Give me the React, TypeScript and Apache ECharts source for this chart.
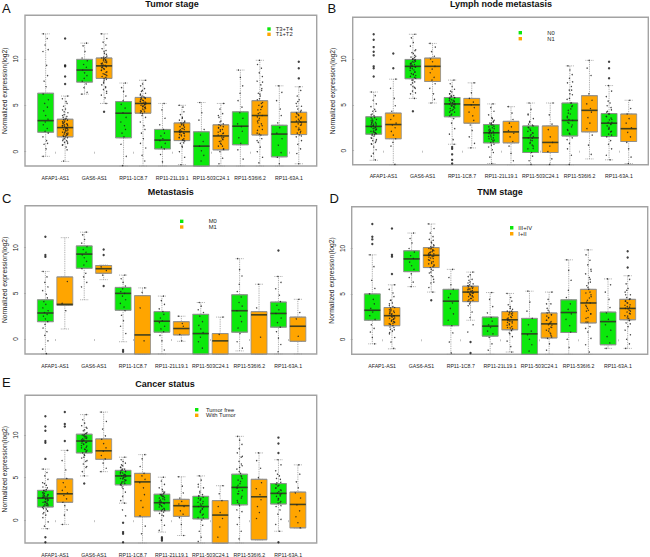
import React, { useEffect, useRef } from "react";
import * as echarts from "echarts";

const genes = ["AFAP1-AS1", "GAS6-AS1", "RP11-1C8.7", "RP11-21L19.1", "RP11-503C24.1", "RP11-536I6.2", "RP11-63A.1"];
const yTicks = [0, 5, 10];
const jitter = [-0.12, 0.08, -0.03, 0.13, -0.14, 0.05, 0.1, -0.08, 0.02, -0.13, 0.14, -0.05, 0.09, -0.1, 0, 0.12, -0.02];
const GREEN = "#0ce80c";
const ORANGE = "#ffa500";

// [min, q1, median, q3, max]
const boxesA = [[-0.5,2.1,3.35,6.3,12.7],[-1.05,1.6,2.6,3.5,6],[6.2,7.5,8.8,9.95,11.7],[5.2,7.9,9.25,10.1,12.7],[-1.54,1.5,4.15,5.4,7.4],[-1.54,4.15,5.2,5.85,7.7],[-1.54,0.3,1.25,2.4,5.2],[-1.4,1.2,2.15,3.1,5],[-1.54,-1.54,0.6,2.15,5.3],[-1.54,0.2,1.7,2.9,5.2],[-1.54,0.75,2.75,4.3,8.8],[-1.54,1.8,3.9,5.5,9.85],[-1.54,-0.55,1.9,2.85,7.1],[-1.3,1.85,3.2,4.25,7]];
const boxesB = [[-1.05,1.8,2.65,3.7,6.4],[-1.53,1.3,2.85,4.1,7.8],[5.7,7.85,9.2,9.95,12.7],[5.2,7.55,9.2,10.1,11.7],[0.7,3.7,5.1,5.8,7.7],[0.3,3,5,5.7,7.4],[-1.4,0.85,1.95,2.85,5.1],[-1.53,0.85,2.05,3.2,4.8],[-1.53,-0.2,1.4,2.7,5.2],[-1.53,-0.2,0.9,2.7,5.2],[-1.53,1.6,3.3,5.2,9.25],[-0.9,2.05,4.4,6,9.85],[-1,1.55,3,4.05,7.1],[-1.4,1,2.4,4,5.5]];
const boxesC = [[-1.64,1.9,2.85,4.3,7.4],[1.1,3.7,3.8,6.8,11.1],[4.3,7.75,9.3,10.2,11.7],[6.5,7.2,7.7,8.05,8.1],[-0.3,3.15,5,5.65,7],[-1.64,-1.64,0.45,4.75,5.6],[-1.64,0.75,1.95,3,4.7],[-0.25,0.45,1.15,1.9,2.5],[-1.64,-1.64,0.6,2.7,4],[-1.64,-1.64,-0.2,0.6,2.4],[-1.3,0.75,3.1,4.85,8.8],[-1.64,-1.64,2.65,3,6],[-1.64,1.3,2.8,4.05,6.85],[-1.64,-0.25,1.4,2.4,4.35]];
const boxesD = [[-0.5,2.1,3.2,5,9.3],[-1.05,1.5,2.6,3.5,6],[5.8,7.45,8.85,9.75,11.7],[5.2,7.9,9.25,10.1,12.7],[-1.65,1.5,4.2,5.5,7.7],[2.1,4.15,5.2,5.85,7.4],[-1.65,0.35,1.45,2.45,5.15],[-1.4,1.05,2.15,3.05,5.05],[-1.65,-1.65,0.6,2.3,5.3],[-1.65,0.15,1.7,2.9,5.2],[-1.65,0.75,2.95,4.35,8.75],[-1.65,1.8,4,5.5,9.85],[-1,-0.6,1.95,3,6.65],[-1,2.15,3.4,4.4,7]];
const boxesE = [[-1,1.55,2.6,3.5,6],[-0.5,2.1,3.1,4.85,8.2],[5.2,7.9,9.3,10.1,12.4],[5.7,7.15,8.15,9.55,12.7],[2,4.15,5.2,5.85,7.4],[-2.68,0.4,4.5,5.5,7.7],[-1.4,1.1,2.05,3.05,5.05],[-1.8,0.45,1.7,2.45,5.1],[-2.68,0.15,1.6,2.8,5.2],[-2.68,-2.68,0.6,2.3,4.05],[-2.68,1.8,3.85,5.4,9.85],[-2.3,-2.3,2.75,4.8,7.9],[-1.3,1.9,3.15,4.3,7.1],[-0.9,-0.9,1.85,3.3,6.5]];

// large outlier marks, one list per box
const outA = [[],[12.2,9.3,9.2,8.1,7.3],[],[4.3],[],[],[],[],[],[],[],[],[],[9.7,9,7.9]];
const outB = [[12.7,12.1,11.3,10.8,10.4,9.2,9,8.1],[10.6,9],[4.3],[],[0.4,0.2,-0.4,-1,-1.4],[],[],[],[],[],[],[],[9.7,9,7.9],[]];
const outC = [[11.2,9.2,9],[],[],[9.8,9.2,5.8],[-1.2,-1.4],[],[],[],[],[],[],[],[9.7],[]];
const outD = [[12.7,11.3,11,10.5],[12.2,9.3,9.1,7.2],[],[4.3],[],[-0.3,-1.5],[],[],[],[],[],[],[],[9.7,9,7.9]];
const outE = [[12.2,11,10.5,9.3,9.1,7.2,-2,-2.6],[12.7,11.3,11,9.3],[4.3],[],[-0.3,-1.4,-1.6,-2.6],[],[-2,-2.2,-2.4],[],[],[],[],[],[9.7,9,7.9,-2.6],[]];

// jittered sample points, one list per box
const ptsA = [
[12.7,12.2,11.5,11,10.8,9.3,8.2,7.6,7,6.2,5.6,5.2,4.8,4.4,3.9,3.5,3.2,2.9,2.5,2.2,2,1.6,1.2,0.9,0.8,0.3,-0.5],
[6,5.7,5.4,5.2,4.9,4.6,4.5,4.2,4,3.8,3.7,3.5,3.4,3.3,3.1,3,2.9,2.8,2.8,2.6,2.5,2.4,2.3,2.1,2,1.9,1.8,1.7,1.6,1.5,1.4,1.2,1.2,1,0.9,0.7,0.5,0.2,-1],
[11.7,11.4,10.8,10.1,9.8,9.4,9.1,8.8,8.5,8.2,7.9,7.6,7.3,6.9,6.4,6.2],
[12.7,12.2,11.8,11.5,11.1,10.8,10.5,10.2,10.1,9.9,9.8,9.6,9.5,9.3,9.2,9.1,8.9,8.8,8.6,8.4,8.3,8.1,7.9,7.8,7.5,7.2,7,6.7,6.5,6.1,5.8,5.2],
[7.4,6.9,6.5,6,5.5,5.1,4.7,4.2,3.7,3.2,2.8,2.4,2,1.6,0.8,-0.5,-1.5],
[7.7,7.3,7.1,6.8,6.6,6.3,6.1,5.9,5.8,5.7,5.5,5.4,5.3,5.2,5.1,5,4.9,4.8,4.6,4.4,4.3,4.1,3.7,3.2,2.8,2.4,2,1.4,0.9,0.4,-0.4,-1],
[5.2,4.5,3.6,2.9,2.4,2,1.7,1.4,1.2,0.9,0.5,0.3,-0.3,-1.1],
[5,4.8,4.3,4,3.7,3.4,3.2,3.1,2.9,2.7,2.5,2.4,2.2,2.1,2,1.8,1.7,1.5,1.3,1.2,0.9,0.5,0,-0.6,-1.4],
[5.3,4.2,3.4,2.4,1.8,1.1,0.6,0.1,-0.4,-1],
[5.2,4.6,4.1,3.7,3.3,3,2.8,2.6,2.4,2.2,2,1.8,1.5,1.3,1.1,0.8,0.6,0.3,0,-0.7,-1.3],
[8.8,8,7.1,6.3,5.5,4.8,4.2,3.6,3,2.7,2.2,1.5,0.9,0.2,-0.8],
[9.85,9.4,9,8.5,8.1,7.6,7.2,6.8,6.3,6,5.6,5.3,5,4.8,4.5,4.2,3.9,3.6,3.3,3,2.7,2.4,2,1.8,1.4,1,0.5,0,-0.6,-1.2],
[7.1,6.4,5.5,4.6,3.9,3.1,2.6,2,1.4,0.7,-0.1,-0.6,-1.3],
[7,6.6,6,5.6,5.2,4.9,4.6,4.3,4.1,3.9,3.7,3.5,3.3,3.2,3,2.9,2.7,2.4,2.2,2,1.8,1.6,1.2,0.8,0.3,-0.2,-1.3],
];
const ptsB = [
[6.4,6,5.5,5.1,4.8,4.5,4.3,4,3.8,3.6,3.4,3.3,3.1,3,2.9,2.8,2.7,2.6,2.5,2.4,2.3,2.1,2,1.9,1.8,1.6,1.4,1.2,1.1,0.9,0.7,0.4,0.1,-0.3,-0.6,-1],
[7.8,6.8,5.7,4.9,4.3,3.8,3.4,3,2.8,2.5,2.1,1.7,1.3,0.9,0.5,-1.5],
[12.7,12.3,11.8,11.4,11,10.7,10.4,10.2,10,9.9,9.7,9.5,9.4,9.2,9.1,9,8.8,8.6,8.4,8.3,8.1,7.9,7.7,7.5,7.2,7,6.8,6.5,6.2,5.7],
[11.7,11.3,10.8,10.3,10,9.7,9.2,8.9,8.5,8,7.7,7.3,6.8,6.2,5.6,5.2],
[7.7,7.3,7,6.7,6.4,6.2,6,5.9,5.8,5.7,5.5,5.4,5.3,5.2,5.1,5,4.9,4.8,4.6,4.4,4.2,4,3.8,3.5,3,2.4,1.8,1.2,0.7],
[7.4,6.3,5.7,5.3,5,4.7,4.2,3.8,3.3,2.8,2.2,1.5,0.8,0.3],
[5.1,4.7,4.3,3.9,3.5,3.2,3,2.8,2.6,2.4,2.2,2.1,2,1.9,1.7,1.5,1.3,1.1,0.9,0.7,0.4,0.1,-0.2,-0.7,-1.4],
[4.8,4.1,3.4,3,2.6,2.2,1.9,1.5,1,0.5,-0.3,-1.1],
[5.2,4.5,4,3.5,3.1,2.8,2.5,2.2,1.9,1.6,1.4,1.1,0.8,0.5,0.2,-0.2,-0.6,-1.1,-1.5],
[5.2,3.9,2.9,2.3,1.5,0.9,0.5,-0.1,-0.9,-1.5],
[9.25,8.8,8.3,7.9,7.4,7,6.6,6.1,5.6,5.2,4.8,4.4,4,3.6,3.3,3,2.6,2.2,1.8,1.4,0.8,0.2,-0.5,-1.5],
[9.85,9,8.2,6.2,5.5,5.1,4.6,4.2,3.6,3,2.4,1.7,0.6,-0.4],
[7.1,6.5,5.9,5.2,4.7,4.3,4,3.7,3.4,3.1,2.9,2.7,2.4,2.1,1.8,1.5,1.1,0.7,0.2,-0.5,-1],
[5.5,4.6,4,3.5,3,2.5,2,1.5,0.9,0.2,-0.7,-1.4],
];
const ptsC = [
[7.4,6.8,6.2,5.7,5.3,4.9,4.5,4.1,3.8,3.4,3.1,2.9,2.7,2.5,2.2,1.9,1.6,1.2,0.8,0.4,-0.2,-1.1,-1.6],
[6.3,3.9,3.1],
[11.7,11.4,10.9,10.5,10.1,9.8,9.5,9.2,8.9,8.5,8.1,7.7,7.2,6.8,6.2,5.7],
[7.9,7.5,7],
[7,6.6,6.2,5.8,5.5,5.2,5,4.7,4.3,3.9,3.5,3.1,2.6,2,1.4,0.6],
[5.6,5.1,3.4,-0.2],
[4.7,4.2,3.8,3.3,3,2.7,2.3,2,1.8,1.4,1.1,0.8,0.4,-0.2,-1.2],
[2.5,1.7,1.4,0.5,-0.2],
[4,3.6,3.2,2.9,2.5,1.9,1.5,1.1,0.7,0.2,-0.3,-1],
[2.4,0.5],
[8.8,7.6,6.9,6,5.2,4.6,4,3.6,3.1,2.5,1.9,1.2,0.6,-0.3,-1],
[6,3.4,0.2],
[6.85,6.2,5.5,4.8,4.1,3.7,3.2,2.8,2.3,1.8,1.3,0.8,0.1,-0.6,-1.4],
[4.35,2.9,2.2,0.3],
];
const ptsD = [
[9.3,8,6.5,5.6,5,4.4,3.9,3.4,3,2.6,2.2,1.6,1.2,0.8,0.2,-0.5],
[6,5.5,5.1,4.7,4.3,4,3.7,3.5,3.3,3.1,2.9,2.8,2.6,2.5,2.3,2.2,2,1.9,1.7,1.5,1.3,1.1,0.9,0.6,0.2,-0.3,-1],
[11.7,11.1,10.6,10,9.6,9.2,8.9,8.5,8.1,7.7,7.2,6.8,6.3,5.8],
[12.7,12.2,11.7,11.3,11,10.7,10.4,10.2,10,9.8,9.6,9.4,9.3,9.1,8.9,8.7,8.5,8.3,8.1,7.9,7.6,7.3,7,6.6,6.2,5.7,5.2],
[7.7,6.8,6,5.5,5,4.6,4,3.4,2.8,2.1,1.5,0.7,-0.3,-1.5],
[7.4,7.1,6.9,6.6,6.3,6.1,5.9,5.8,5.6,5.5,5.3,5.2,5.1,5,4.8,4.7,4.5,4.3,4.1,3.7,3,2.4,1.6,0.8],
[5.15,4.4,3.6,2.9,2.4,2,1.6,1.3,0.9,0.6,0.2,-0.5,-1.2],
[5.05,4.6,4.2,3.8,3.4,3.1,2.9,2.7,2.4,2.2,2,1.8,1.6,1.3,1,0.7,0.3,-0.2,-0.8,-1.4],
[5.3,4.1,3.1,2.3,1.6,0.9,0.5,0,-0.6,-1.3],
[5.2,4.4,3.9,3.4,3,2.7,2.4,2.1,1.8,1.6,1.3,1,0.7,0.4,0.1,-0.5,-1.2],
[8.75,7.6,6.5,5.4,4.6,3.9,3.3,2.8,2.2,1.5,0.8,0,-0.9],
[9.85,9.3,8.7,8.2,7.7,7.2,6.8,6.3,5.9,5.5,5.1,4.7,4.3,4,3.6,3.2,2.8,2.4,1.9,1.4,0.8,0.1,-0.6,-1.4],
[6.65,6,5.2,4.4,3.5,2.9,2.2,1.6,1,0.3,-0.4,-1],
[7,6.6,6.1,5.6,5.2,4.9,4.6,4.4,4.2,4,3.8,3.6,3.4,3.2,3,2.8,2.6,2.3,2.1,1.8,1.4,1,0.5,0,-0.5,-1],
];
const ptsE = [
[6,5.6,5.2,4.8,4.4,4.1,3.8,3.5,3.4,3.2,3,2.9,2.8,2.7,2.5,2.4,2.2,2.1,2,1.8,1.7,1.5,1.3,1.1,0.9,0.6,0.3,-0.2,-0.7,-1],
[8.2,7,5.9,4.9,4.4,3.9,3.5,3.2,2.9,2.5,2.1,1.7,1.2,0.6,-0.5],
[12.4,11.8,11.4,11.1,10.8,10.5,10.2,10,9.8,9.6,9.4,9.3,9.1,8.9,8.7,8.5,8.3,8.1,7.9,7.6,7.3,7,6.6,6.2,5.7,5.2],
[12.7,11.6,10.7,9.9,9.5,9,8.5,8.1,7.6,7.2,6.7,6.1,5.7],
[7.4,7.1,6.9,6.7,6.4,6.2,6,5.9,5.7,5.6,5.4,5.3,5.2,5,4.9,4.7,4.5,4.3,4.1,3.7,3.3,2.8,2.3,2,1.2,0.5],
[7.7,7.2,6.3,5.5,5.2,4.8,4.4,3.8,3,2.3,1.5,0.5,-0.7,-1.6],
[5.05,4.6,4.2,3.8,3.4,3.2,3,2.8,2.6,2.4,2.1,2,1.8,1.6,1.3,1.1,0.8,0.5,0,-0.6,-1.2],
[5.1,4,3.2,2.6,2.2,1.9,1.6,1.1,0.7,0.3,-0.5,-1.8],
[5.2,4.7,4.2,3.8,3.4,3,2.8,2.5,2.2,1.9,1.6,1.3,1,0.7,0.3,0,-0.6,-1.3,-2,-2.5],
[4.05,3.1,2.3,1.6,0.9,0.2,-0.8,-2],
[9.85,9.4,8.9,8.4,7.9,7.4,6.9,6.4,6,5.5,5.1,4.7,4.3,3.9,3.5,3.1,2.6,2.1,1.7,1,0.3,-0.5,-1.3,-2.2],
[7.9,7,6.1,5,4.4,3.7,3,2.4,1.6,0.9,0.2],
[7.1,6.5,5.8,5.2,4.8,4.4,4.1,3.8,3.5,3.2,3,2.8,2.5,2.2,2,1.6,1.2,0.7,0.1,-0.5,-1.3],
[6.5,5.4,4.5,3.8,3.2,2.6,1.8,1.1,0.4,-0.3,-0.9],
];

// further points of the large group in a panel, one list per gene
const denseByGene = [
[3.6,3.45,3.25,3.15,3.05,2.95,2.85,2.75,2.65,2.55,2.45,2.35,2.25,2.15,2.05,1.95,1.85,1.75,1.65,3.9,4.3,1.35,1.05,0.75],
[10.9,10.6,10.3,10.15,10.05,9.95,9.85,9.75,9.65,9.55,9.45,9.35,9.25,9.15,9.05,8.95,8.75,8.55,8.35,8.2,8,7.7,7.4,6.9,6.3],
[6.5,6.2,6,5.85,5.75,5.65,5.55,5.45,5.35,5.25,5.15,5.05,4.95,4.85,4.75,4.65,4.5,4.35,4.2,3.9],
[3.6,3.3,3.1,3,2.9,2.8,2.65,2.5,2.35,2.25,2.15,2.05,1.95,1.85,1.7,1.55,1.4,1.25,1.15,0.95,0.6],
[3.9,3.2,2.9,2.7,2.55,2.35,2.1,1.95,1.75,1.55,1.35,1.15,0.9,0.6,0.25],
[7.5,6.6,6.2,5.7,5.2,4.9,4.55,4.1,3.75,3.4,3.1,2.8,2.3,1.9,1.2],
[5.4,4.9,4.45,4.2,4,3.75,3.55,3.35,3.1,2.85,2.55,2.35,2.05,1.7],
];
const densePair = [1, 0, -1, 1, 0]; // which of a gene's two boxes holds the extra points, per panel

const panels = [
  { title: "Tumor stage", letter: "A", boxes: boxesA, pts: ptsA, out: outA, frame: [22.7, 316.7, 15.3, 166], y: [-1.54, 14.7], x: [-0.06, 14.92], titleX: 172, titleY: 3.7, letterX: 2, letterY: 8.5,
    legend: { names: ["T3+T4", "T1+T2"], mx: 269, tx: 275.7, ys: [29, 34.3] } },
  { title: "Lymph node metastasis", letter: "B", boxes: boxesB, pts: ptsB, out: outB, frame: [352.7, 648.3, 17.3, 164.7], y: [-1.53, 14.55], x: [-0.07, 15], titleX: 501, titleY: 3.7, letterX: 327.5, letterY: 8.5,
    legend: { names: ["N0", "N1"], mx: 520.3, tx: 547.3, ys: [32.7, 38.7] } },
  { title: "Metastasis", letter: "C", boxes: boxesC, pts: ptsC, out: outC, frame: [22.7, 316.7, 205.7, 354], y: [-1.64, 14.6], x: [-0.05, 14.97], titleX: 170.7, titleY: 192.3, letterX: 2, letterY: 198,
    legend: { names: ["M0", "M1"], mx: 181.7, tx: 208.7, ys: [221.3, 227] } },
  { title: "TNM stage", letter: "D", boxes: boxesD, pts: ptsD, out: outD, frame: [351.7, 647.7, 206.7, 354.3], y: [-1.65, 14.6], x: [-0.05, 15.02], titleX: 500, titleY: 192.3, letterX: 329.5, letterY: 198,
    legend: { names: ["III+IV", "I+II"], mx: 511.7, tx: 518.3, ys: [227.7, 233.7] } },
  { title: "Cancer status", letter: "E", boxes: boxesE, pts: ptsE, out: outE, frame: [22.7, 316.7, 395.3, 544], y: [-2.68, 14.67], x: [-0.05, 14.97], titleX: 165, titleY: 384.3, letterX: 2, letterY: 382,
    legend: { names: ["Tumor free", "With Tumor"], mx: 196.7, tx: 206, ys: [409.7, 415.3] } },
];

const FONT = "Liberation Sans";

function buildOption() {
  const grid: any[] = [], xAxis: any[] = [], yAxis: any[] = [], series: any[] = [], graphic: any[] = [], title: any[] = [];
  panels.forEach((p, i) => {
    const [l, r, t, b] = p.frame;
    grid.push({ left: l, top: t, width: r - l, height: b - t, show: true, backgroundColor: "#fff", borderColor: "#a3a3a3", borderWidth: 1.4 });
    const labelX = genes.map((_, k) => 1.5 + 2 * k);
    xAxis.push({
      type: "value", gridIndex: i, min: p.x[0], max: p.x[1], splitLine: { show: false }, axisLine: { show: false },
      axisTick: { show: true, length: 2, customValues: labelX, lineStyle: { color: "#999", width: 0.6 } },
      axisLabel: { show: true, customValues: labelX, hideOverlap: false, fontSize: 5.2, fontFamily: FONT, color: "#222", margin: 9,
        formatter: (v: number) => genes[Math.round((v - 1.5) / 2)] },
    });
    xAxis.push({ type: "value", gridIndex: i, min: p.x[0], max: p.x[1], show: false, splitLine: { show: false } });
    yAxis.push({
      type: "value", gridIndex: i, min: p.y[0], max: p.y[1], splitLine: { show: false }, axisLine: { show: false },
      name: "Normalized expression(log2)", nameLocation: "middle", nameRotate: 90, nameGap: 17,
      nameTextStyle: { fontSize: 6.8, fontFamily: FONT, color: "#222" },
      axisTick: { show: true, length: 2, customValues: yTicks, lineStyle: { color: "#999", width: 0.6 } },
      axisLabel: { show: true, customValues: yTicks, rotate: 90, fontSize: 6.5, fontFamily: FONT, color: "#222", margin: 6 },
    });
    const ax = 2 * i;
    const slots = p.boxes.map((_, k) => k + 1);
    // whiskers and caps
    series.push({
      type: "boxplot", xAxisIndex: ax, yAxisIndex: i, boxWidth: [8, 8], silent: true,
      itemStyle: { color: "transparent", borderColor: "#9c9c9c", borderWidth: 0.9, borderType: "dotted" },
      data: p.boxes.map((q, k) => [slots[k], ...q]),
    });
    // boxes
    series.push({
      type: "boxplot", xAxisIndex: ax + 1, yAxisIndex: i, boxWidth: [16, 16], silent: true,
      data: p.boxes.map((q, k) => ({
        value: [slots[k], q[1], q[1], q[2], q[3], q[3]],
        itemStyle: { color: k % 2 === 0 ? GREEN : ORANGE, borderColor: "#8d8d8d", borderWidth: 0.8 },
      })),
    });
    // medians
    series.push({
      type: "scatter", xAxisIndex: ax, yAxisIndex: i, symbol: "rect", symbolSize: [16, 1.6], silent: true,
      itemStyle: { color: "rgba(15,25,0,0.85)" },
      data: p.boxes.map((q, k) => [slots[k], q[2]]),
    });
    // points
    const pts: number[][] = [];
    p.pts.forEach((list, k) => list.forEach((v, n) => pts.push([slots[k] + jitter[(n + k * 3) % jitter.length], v])));
    if (densePair[i] >= 0) {
      denseByGene.forEach((list, g) => {
        const k = 2 * g + densePair[i];
        list.forEach((v, n) => {
          if (v <= p.boxes[k][4] && v >= p.boxes[k][0]) pts.push([slots[k] + jitter[(n * 2 + g + 5) % jitter.length], v]);
        });
      });
    }
    series.push({ type: "scatter", xAxisIndex: ax, yAxisIndex: i, symbolSize: 1.4, silent: true, itemStyle: { color: "#222", opacity: 0.85 }, data: pts });
    // outliers
    const outs: number[][] = [];
    p.out.forEach((list, k) => list.forEach((v) => outs.push([slots[k], v])));
    series.push({ type: "scatter", xAxisIndex: ax, yAxisIndex: i, symbolSize: 2.4, silent: true, itemStyle: { color: "#111" }, data: outs });

    title.push({ text: p.title, left: p.titleX, top: p.titleY - 5, padding: 0, textAlign: "center", textStyle: { fontSize: 9, fontWeight: "bold", fontFamily: FONT, color: "#111", lineHeight: 10 } });
    graphic.push({ type: "text", x: p.letterX, y: p.letterY, style: { text: p.letter, fontSize: 13, fontFamily: FONT, fill: "#111", verticalAlign: "middle" } });
    p.legend.names.forEach((name, n) => {
      graphic.push({ type: "rect", shape: { x: p.legend.mx - 1.7, y: p.legend.ys[n] - 1.7, width: 3.4, height: 3.4 }, style: { fill: n === 0 ? GREEN : ORANGE } });
      graphic.push({ type: "text", x: p.legend.tx, y: p.legend.ys[n], style: { text: name, fontSize: 5.8, fontFamily: FONT, fill: "#222", verticalAlign: "middle" } });
    });
  });
  return { animation: false, backgroundColor: "#fff", grid, xAxis, yAxis, series, graphic, title };
}

export default function App() {
  const ref = useRef<HTMLDivElement>(null);
  useEffect(() => {
    const chart = echarts.init(ref.current!, undefined, { renderer: "svg" });
    chart.setOption(buildOption() as any);
    return () => chart.dispose();
  }, []);
  return <div ref={ref} style={{ position: "absolute", left: 0, top: 0, width: 650, height: 557 }} />;
}
